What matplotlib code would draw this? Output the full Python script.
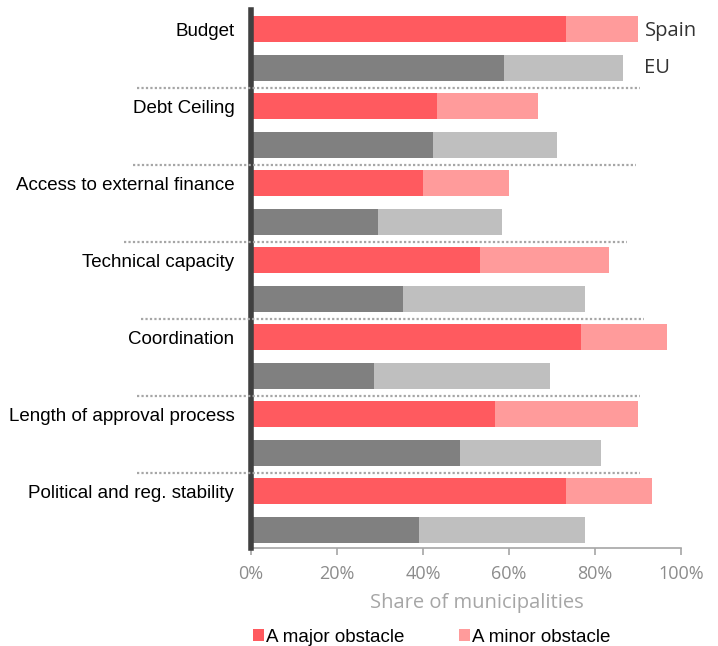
import matplotlib
matplotlib.use("Agg")
import matplotlib.pyplot as plt
import numpy as np

categories = ["Budget", "Debt Ceiling", "Access to external finance",
              "Technical capacity", "Coordination",
              "Length of approval process", "Political and reg. stability"]
spain_major = [73.3, 43.3, 40.0, 53.3, 76.7, 56.7, 73.3]
spain_total = [90.0, 66.7, 60.0, 83.3, 96.7, 90.0, 93.3]
eu_major = [58.8, 42.3, 29.5, 35.3, 28.6, 48.6, 39.0]
eu_total = [86.6, 71.2, 58.4, 77.7, 69.5, 81.4, 77.7]
spain_minor = [t - m for t, m in zip(spain_total, spain_major)]
eu_minor = [t - m for t, m in zip(eu_total, eu_major)]
xticks = [0, 20, 40, 60, 80, 100]
xticklabels = ["0%", "20%", "40%", "60%", "80%", "100%"]

c_major = "#FF5A5F"
c_minor = "#FF9B9B"
c_eu_major = "#808080"
c_eu_minor = "#BFBFBF"

fig = plt.figure(figsize=(7.18, 6.46), dpi=100)
W, H = 718, 646
ax = fig.add_axes([251 / W, 1 - 548 / H, 430 / W, (548 - 10) / H])

n = len(categories)
ypos_spain = np.arange(n) * 2
ypos_eu = ypos_spain + 1
h = 0.68
ax.barh(ypos_spain, spain_major, height=h, color=c_major, edgecolor="none")
ax.barh(ypos_spain, spain_minor, left=spain_major, height=h, color=c_minor, edgecolor="none")
ax.barh(ypos_eu, eu_major, height=h, color=c_eu_major, edgecolor="none")
ax.barh(ypos_eu, eu_minor, left=eu_major, height=h, color=c_eu_minor, edgecolor="none")

ax.set_xlim(0, 100)
ax.set_ylim(2 * n - 0.53, -0.5)

ax.set_yticks(ypos_spain)
ax.set_yticklabels(categories, family="Liberation Sans", fontsize=13.5, color="#000000")
ax.tick_params(axis="y", length=0, pad=12)

ax.set_xticks(xticks)
ax.set_xticklabels(xticklabels, family="Open Sans", fontsize=13, color="#8C8C8C")
ax.tick_params(axis="x", length=5, color="#A6A6A6", width=1.2, pad=7)
ax.set_xlabel("Share of municipalities", family="Open Sans", fontsize=14.5,
              color="#A6A6A6")
ax.xaxis.set_label_coords((476.5 - 251) / 430, -(603 - 548) / 538, transform=ax.transAxes)
ax.xaxis.label.set_va("center")

for s in ["top", "right"]:
    ax.spines[s].set_visible(False)
ax.spines["left"].set_color("#404040")
ax.spines["left"].set_linewidth(4)
ax.spines["left"].set_zorder(5)
ax.spines["bottom"].set_color("#A6A6A6")
ax.spines["bottom"].set_linewidth(1.2)

# dotted separators between groups
sep_ext = [(-26.5, 90.5), (-27.5, 89.5), (-29.5, 87.5), (-25.5, 91.5), (-26.5, 90.5), (-26.5, 90.5)]
for i, (x0, x1) in enumerate(sep_ext):
    yy = ypos_eu[i] + 0.52
    ax.plot([x0, x1], [yy, yy], color="#A6A6A6", lw=1.6, ls=(0, (1, 1)),
            clip_on=False, zorder=6)

ax.text(91.5, ypos_spain[0] + 0.05, "Spain", family="Open Sans", fontsize=14.5,
        color="#333333", va="center", ha="left")
ax.text(91.5, ypos_eu[0], "EU", family="Open Sans", fontsize=14.5,
        color="#333333", va="center", ha="left")

# legend
from matplotlib.patches import Patch
handles = [Patch(facecolor=c_major, edgecolor="none"),
           Patch(facecolor=c_minor, edgecolor="none")]
leg = fig.legend(handles, ["A major obstacle", "A minor obstacle"],
                 loc="center left", bbox_to_anchor=(236 / W, 1 - 637 / H),
                 ncol=2, frameon=False, handlelength=0.6, handleheight=0.6,
                 handletextpad=0.1, columnspacing=2.9,
                 prop={"family": "Liberation Sans", "size": 13.5})

fig.savefig("out.png", dpi=100)
